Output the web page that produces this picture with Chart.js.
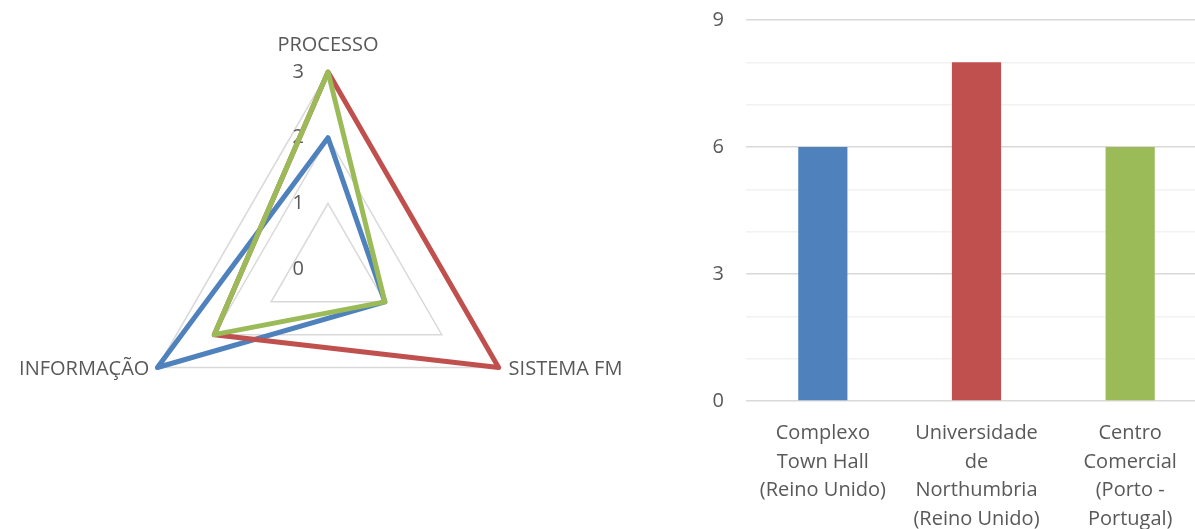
<!DOCTYPE html>
<html>
<head>
<meta charset="utf-8">
<script src="https://cdn.jsdelivr.net/npm/chart.js@4"></script>
<style>
  html, body { margin: 0; padding: 0; background: #fff; overflow: hidden; width: 1195px; height: 529px; }
  #radarBox { position: absolute; left: 0; top: 0; width: 660px; height: 529px; }
  #barBox { position: absolute; left: 690px; top: 0; width: 517px; height: 529px; }
</style>
</head>
<body>
<div id="radarBox"><canvas id="radar"></canvas></div>
<div id="barBox"><canvas id="bar"></canvas></div>
<script>
// Evaluation criteria (radar axes, clockwise from the top)
const criteria = ["PROCESSO", "SISTEMA FM", "INFORMAÇÃO"];
// Case studies (bar categories, one line per array entry)
const sites = [
  ["Complexo", "Town Hall", "(Reino Unido)"],
  ["Universidade", "de", "Northumbria", "(Reino Unido)"],
  ["Centro", "Comercial", "(Porto -", "Portugal)"]
];
const siteNames = ["Complexo Town Hall", "Universidade de Northumbria", "Centro Comercial"];
// Scores per criterion
const townHall = [2, 1, 3];
const northumbria = [3, 3, 2];
const centroComercial = [3, 1, 2];
// Total score per site
const totals = [6, 8, 6];
// Tick labels
const radarTicks = [0, 1, 2, 3];
const barTicks = [0, 3, 6, 9];

const colors = ['#4F81BD', '#C0504D', '#9BBB59'];
const textColor = '#595959';
const fontFamily = "'Open Sans', 'DejaVu Sans', sans-serif";

Chart.defaults.font.family = fontFamily;
Chart.defaults.color = textColor;

// Radar tick labels sit to the left of the vertical axis; axis names sit outside the vertices
const radarText = {
  id: 'radarText',
  beforeDatasetsDraw(chart) {
    const s = chart.scales.r;
    const ctx = chart.ctx;
    ctx.save();
    ctx.font = '20px ' + fontFamily;
    ctx.fillStyle = textColor;
    ctx.textAlign = 'right';
    ctx.textBaseline = 'middle';
    radarTicks.forEach(v => {
      const d = s.getDistanceFromCenterForValue(v);
      ctx.fillText(String(v), s.xCenter - 24, s.yCenter - d);
    });
    ctx.restore();
  },
  afterDraw(chart) {
    const s = chart.scales.r;
    const ctx = chart.ctx;
    ctx.save();
    ctx.font = '20px ' + fontFamily;
    ctx.fillStyle = textColor;
    ctx.textBaseline = 'middle';
    criteria.forEach((name, i) => {
      const p = s.getPointPosition(i, s.drawingArea);
      if (i === 0) {
        ctx.textAlign = 'center';
        ctx.fillText(name, p.x, p.y - 27);
      } else if (p.x > s.xCenter) {
        ctx.textAlign = 'left';
        ctx.fillText(name, p.x + 10, p.y + 2);
      } else {
        ctx.textAlign = 'right';
        ctx.fillText(name, p.x - 8, p.y + 2);
      }
    });
    ctx.restore();
  }
};

new Chart(document.getElementById('radar'), {
  type: 'radar',
  data: {
    labels: criteria,
    datasets: [
      { label: siteNames[0], data: townHall, borderColor: colors[0], order: 3 },
      { label: siteNames[1], data: northumbria, borderColor: colors[1], order: 2 },
      { label: siteNames[2], data: centroComercial, borderColor: colors[2], order: 1 }
    ].map(d => Object.assign(d, {
      backgroundColor: 'transparent',
      fill: false,
      clip: false,
      borderWidth: 5,
      borderJoinStyle: 'round',
      pointRadius: 0,
      pointHoverRadius: 0
    }))
  },
  options: {
    responsive: true,
    maintainAspectRatio: false,
    animation: false,
    layout: { padding: { left: 131, right: 135, top: 72, bottom: 63 } },
    elements: {
      line: { tension: 0 },
      point: { radius: 0, hitRadius: 0, hoverRadius: 0 }
    },
    plugins: { legend: { display: false }, tooltip: { enabled: false } },
    scales: {
      r: {
        min: 0,
        max: 3,
        ticks: { stepSize: 1, display: false },
        pointLabels: { display: false },
        angleLines: { display: false },
        grid: { color: '#D9D9D9', lineWidth: 1.5 }
      }
    }
  },
  plugins: [radarText]
});

new Chart(document.getElementById('bar'), {
  type: 'bar',
  data: {
    labels: sites,
    datasets: [{
      label: 'Total',
      data: totals,
      backgroundColor: colors,
      barPercentage: 0.32,
      categoryPercentage: 1
    }]
  },
  options: {
    responsive: true,
    maintainAspectRatio: false,
    animation: false,
    layout: { padding: { top: 20, left: 0, right: 0, bottom: 0 } },
    plugins: { legend: { display: false }, tooltip: { enabled: false } },
    scales: {
      x: {
        grid: { display: false },
        border: { display: false },
        ticks: {
          color: textColor,
          font: { size: 20, lineHeight: 1.43 },
          padding: 10,
          maxRotation: 0,
          autoSkip: false
        },
        afterFit(scale) { scale.height = 128; }
      },
      y: {
        min: 0,
        max: 9,
        ticks: {
          stepSize: 1,
          color: textColor,
          font: { size: 20 },
          padding: 22,
          callback: v => (barTicks.includes(v) ? String(v) : '')
        },
        grid: {
          drawTicks: false,
          lineWidth: 1.5,
          color: c => (barTicks.includes(c.tick.value) ? '#D9D9D9' : '#F2F2F2')
        },
        border: { display: false },
        afterFit(scale) {
          scale.width = 56;
          scale.paddingTop = 0;
          scale.paddingBottom = 0;
        }
      }
    }
  }
});
</script>
</body>
</html>
